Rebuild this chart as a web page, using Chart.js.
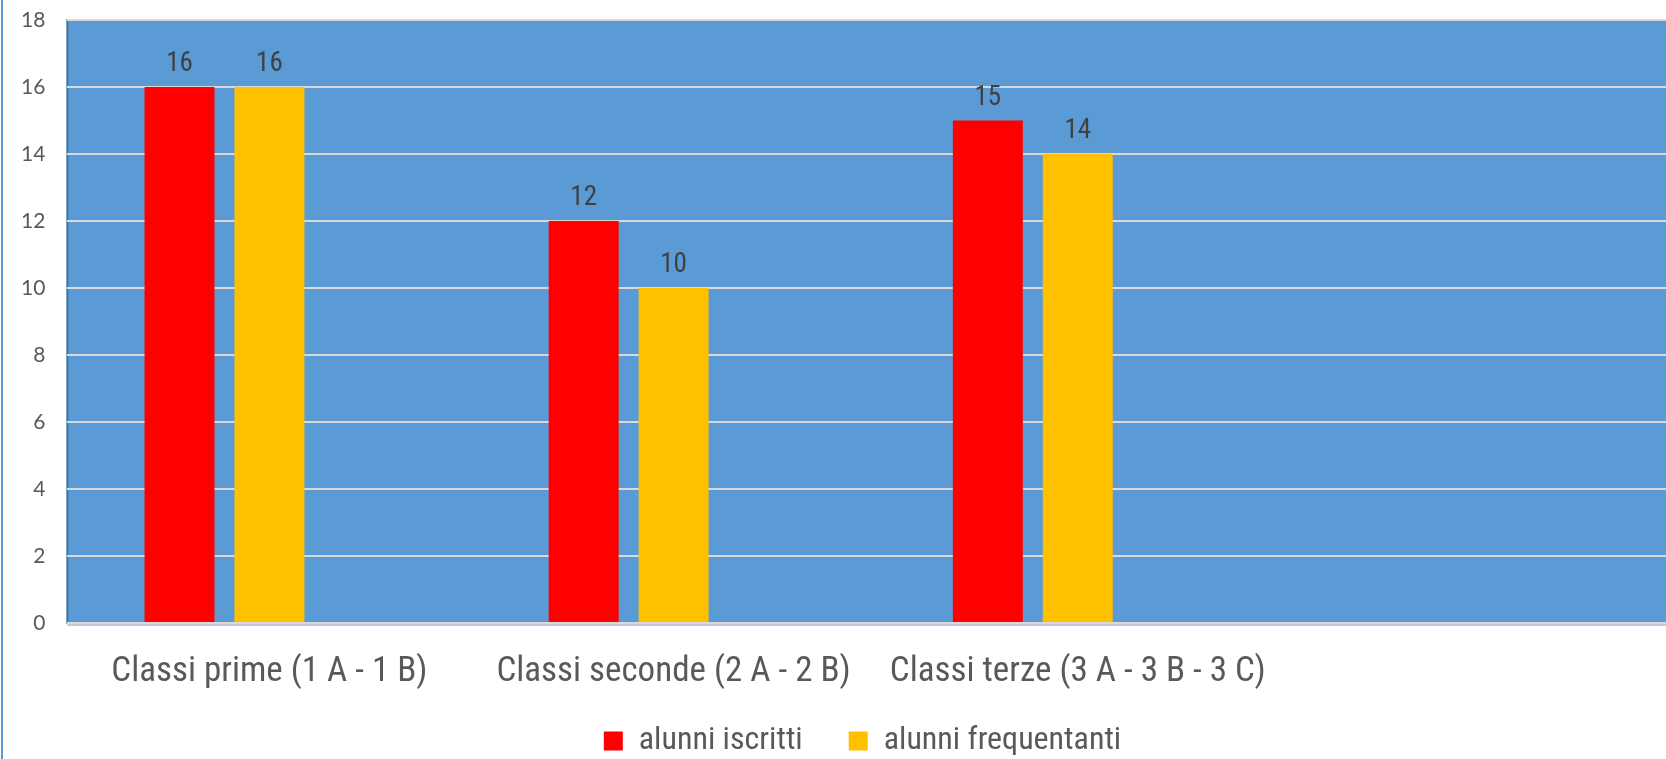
<!DOCTYPE html>
<html>
<head>
<meta charset="utf-8">
<script src="https://cdn.jsdelivr.net/npm/chart.js@4.4.1/dist/chart.umd.min.js"></script>
<style>
  html, body { margin: 0; padding: 0; background: #fff; overflow: hidden; }
  #wrap { position: relative; width: 1684px; height: 759px; }
  #frame { position: absolute; left: 1px; top: 0; width: 2px; height: 759px; background: #5b9bd5; }
</style>
</head>
<body>
<div id="wrap">
  <canvas id="myChart" width="1684" height="759"></canvas>
  <div id="frame"></div>
</div>
<script>
// Data
const categories = ["Classi prime (1 A - 1 B)", "Classi seconde (2 A - 2 B)", "Classi terze (3 A - 3 B - 3 C)", ""];
const iscritti = [16, 12, 15, null];
const frequentanti = [16, 10, 14, null];
const terzaSerie = [null, null, null, null];
const yTicks = [0, 2, 4, 6, 8, 10, 12, 14, 16, 18];

// blue plot background and border
const plotBackground = {
    id: 'plotBackground',
    beforeDraw(chart) {
        const { ctx, chartArea: a } = chart;
        ctx.save();
        ctx.fillStyle = '#5b9bd5';
        ctx.fillRect(a.left, a.top, a.right - a.left, a.bottom - a.top);
        ctx.strokeStyle = '#41719c';
        ctx.lineWidth = 2;
        ctx.strokeRect(a.left, a.top, a.right - a.left, a.bottom - a.top);
        ctx.restore();
    },
    afterDraw(chart) {
        const { ctx, chartArea: a } = chart;
        ctx.save();
        ctx.strokeStyle = '#bfc8d6';
        ctx.lineWidth = 2;
        ctx.beginPath();
        ctx.moveTo(a.left, a.bottom + 2);
        ctx.lineTo(a.right, a.bottom + 2);
        ctx.stroke();
        ctx.restore();
    }
};

// value labels above bars
const valueLabels = {
    id: 'valueLabels',
    afterDatasetsDraw(chart) {
        const ctx = chart.ctx;
        ctx.save();
        ctx.font = "condensed 27px Roboto";
        ctx.fillStyle = '#404040';
        ctx.textAlign = 'center';
        ctx.textBaseline = 'alphabetic';
        chart.data.datasets.forEach((ds, i) => {
            const meta = chart.getDatasetMeta(i);
            meta.data.forEach((bar, j) => {
                const v = ds.data[j];
                if (v === null || v === undefined) return;
                ctx.fillText(v, bar.x, bar.y - 16);
            });
        });
        ctx.restore();
    }
};

// move legend to where it sits in the picture
const legendShift = {
    id: 'legendShift',
    afterLayout(chart) {
        const lg = chart.legend;
        lg.left += 10;
        lg.right += 10;
        lg.top -= 42;
        lg.bottom -= 42;
    }
};

const ctx = document.getElementById('myChart').getContext('2d');
const myChart = new Chart(ctx, {
    type: 'bar',
    data: {
        labels: categories,
        datasets: [
            { label: 'alunni iscritti', data: iscritti, backgroundColor: '#ff0000' },
            { label: 'alunni frequentanti', data: frequentanti, backgroundColor: '#ffc000' },
            { label: 'serie 3', data: terzaSerie, backgroundColor: '#a5a5a5' }
        ]
    },
    options: {
        responsive: false,
        animation: false,
        layout: { padding: { left: 21, top: 20, right: 0, bottom: -50 } },
        datasets: {
            bar: { categoryPercentage: 0.6675, barPercentage: 0.778 }
        },
        scales: {
            x: {
                grid: { display: false, drawTicks: false },
                border: { display: false },
                ticks: {
                    padding: 28,
                    color: '#595959',
                    font: { family: "Roboto", weight: 'condensed', size: 35 },
                    maxRotation: 0,
                    autoSkip: false
                }
            },
            y: {
                min: 0,
                max: 18,
                afterBuildTicks(axis) {
                    axis.ticks = yTicks.map(v => ({ value: v }));
                },
                grid: { color: '#d9d9d9', lineWidth: 2, drawTicks: true, tickLength: 22, tickColor: 'rgba(0,0,0,0)' },
                border: { display: false },
                ticks: {
                    padding: 0,
                    color: '#595959',
                    font: { family: "Lato, 'Open Sans', sans-serif", size: 21 }
                }
            }
        },
        plugins: {
            legend: {
                position: 'bottom',
                labels: {
                    filter: item => item.datasetIndex < 2,
                    boxWidth: 19,
                    boxHeight: 19,
                    padding: 46,
                    color: '#595959',
                    font: { family: "Roboto", weight: 'condensed', size: 32 }
                }
            },
            tooltip: { enabled: false }
        }
    },
    plugins: [plotBackground, valueLabels, legendShift]
});
</script>
</body>
</html>
